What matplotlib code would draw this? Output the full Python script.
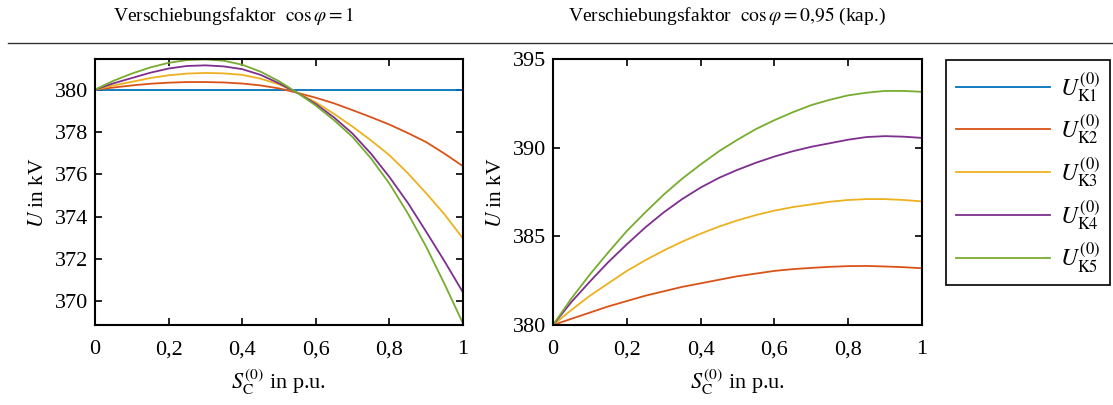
import numpy as np
from matplotlib import pyplot as plt
from matplotlib.lines import Line2D

plt.rcParams['font.family'] = ['Liberation Serif', 'DejaVu Serif']
plt.rcParams['mathtext.fontset'] = 'stix'

# S_C^(0) in p.u.
s = [0.0, 0.05, 0.1, 0.15, 0.2, 0.25, 0.3, 0.35, 0.4, 0.45, 0.5,
     0.55, 0.6, 0.65, 0.7, 0.75, 0.8, 0.85, 0.9, 0.95, 1.0]

# cos phi = 1
u1_k1 = [380.0] * 21
u1_k2 = [380.0, 380.1, 380.2, 380.28, 380.33, 380.36, 380.36, 380.34, 380.29, 380.2, 380.06,
         379.85, 379.62, 379.35, 379.03, 378.7, 378.35, 377.95, 377.52, 376.97, 376.38]
u1_k3 = [380.0, 380.2, 380.37, 380.55, 380.68, 380.76, 380.79, 380.77, 380.7, 380.52, 380.25,
         379.85, 379.4, 378.85, 378.25, 377.6, 376.9, 376.05, 375.1, 374.1, 372.96]
u1_k4 = [380.0, 380.3, 380.55, 380.8, 381.0, 381.12, 381.15, 381.1, 380.97, 380.7, 380.3,
         379.85, 379.32, 378.68, 377.92, 376.97, 375.87, 374.65, 373.28, 371.88, 370.41]
u1_k5 = [380.0, 380.42, 380.76, 381.05, 381.27, 381.4, 381.43, 381.37, 381.18, 380.85, 380.4,
         379.85, 379.25, 378.55, 377.76, 376.75, 375.56, 374.15, 372.57, 370.8, 368.94]

# cos phi = 0,95 (kap.)
u2_k1 = [380.0] * 21
u2_k2 = [380.0, 380.35, 380.7, 381.05, 381.35, 381.65, 381.9, 382.15, 382.35, 382.55, 382.75,
         382.9, 383.05, 383.15, 383.22, 383.28, 383.32, 383.33, 383.3, 383.26, 383.2]
u2_k3 = [380.0, 380.85, 381.65, 382.35, 383.05, 383.65, 384.2, 384.7, 385.15, 385.55, 385.9,
         386.2, 386.45, 386.65, 386.8, 386.95, 387.05, 387.1, 387.1, 387.05, 386.97]
u2_k4 = [380.0, 381.3, 382.45, 383.55, 384.55, 385.5, 386.35, 387.1, 387.75, 388.3, 388.75,
         389.15, 389.5, 389.8, 390.05, 390.25, 390.45, 390.6, 390.65, 390.62, 390.55]
u2_k5 = [380.0, 381.5, 382.85, 384.1, 385.3, 386.35, 387.35, 388.25, 389.05, 389.8, 390.45,
         391.05, 391.55, 392.0, 392.4, 392.7, 392.95, 393.1, 393.2, 393.2, 393.15]

colors = ['#0072BD', '#D95319', '#EDB120', '#7E2F8E', '#77AC30']
labels = [r'$U_{\mathrm{K%d}}^{(0)}$' % (i + 1) for i in range(5)]
xticks = [0, 0.2, 0.4, 0.6, 0.8, 1]
xticklabels = ['0', '0,2', '0,4', '0,6', '0,8', '1']

fig = plt.figure(figsize=(11.13, 4.05), dpi=100)
W, H = 1113, 405

def make_axes(x0, x1, y0, y1):
    ax = fig.add_axes([x0 / W, 1 - y1 / H, (x1 - x0) / W, (y1 - y0) / H])
    for sp in ax.spines.values():
        sp.set_linewidth(1.5)
    ax.tick_params(direction='in', top=True, right=True, length=5, width=1.2,
                   labelsize=16)
    ax.tick_params(axis='x', pad=11)
    ax.tick_params(axis='y', pad=5)
    ax.set_xlim(0, 1)
    ax.set_xticks(xticks)
    ax.set_xticklabels(xticklabels)
    ax.set_xlabel(r'$S_{\mathrm{C}}^{(0)}$ in p.u.', fontsize=16, labelpad=6)
    ax.set_ylabel(r'$U$ in kV', fontsize=15.5, labelpad=5)
    return ax

ax1 = make_axes(95, 463, 59, 325)
for u, c in zip([u1_k1, u1_k2, u1_k3, u1_k4, u1_k5], colors):
    ax1.plot(s, u, color=c, lw=1.3)
ax1.set_ylim(368.87, 381.45)
ax1.set_yticks([370, 372, 374, 376, 378, 380])

ax2 = make_axes(553, 922, 59, 325)
for u, c in zip([u2_k1, u2_k2, u2_k3, u2_k4, u2_k5], colors):
    ax2.plot(s, u, color=c, lw=1.3)
ax2.set_ylim(380, 395)
ax2.set_yticks([380, 385, 390, 395])

fig.text(234 / W, 1 - 16 / H, r'Verschiebungsfaktor  $\cos\varphi = 1$',
         ha='center', va='center', fontsize=14)
fig.text(727 / W, 1 - 16 / H, r'Verschiebungsfaktor  $\cos\varphi = 0{,}95$ (kap.)',
         ha='center', va='center', fontsize=14)
fig.add_artist(Line2D([8 / W, 1], [1 - 43 / H, 1 - 43 / H], color='#333333', lw=1.0))

handles = [Line2D([], [], color=c, lw=1.3) for c in colors]
leg = fig.legend(handles, labels, loc='upper right',
                 bbox_to_anchor=(1110 / W, 1 - 60 / H), borderaxespad=0,
                 fontsize=17, handlelength=4.0, handletextpad=0.4,
                 labelspacing=0.38, borderpad=0.42, fancybox=False,
                 edgecolor='black', framealpha=1)
leg.get_frame().set_linewidth(1.2)

fig.savefig('out.png', dpi=100)
